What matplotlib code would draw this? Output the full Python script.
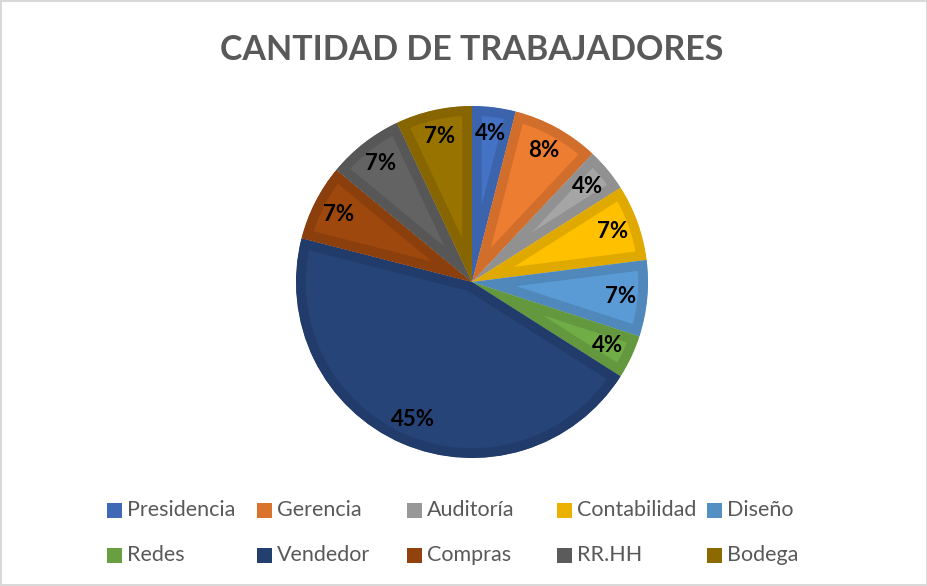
"""Pie chart: cantidad de trabajadores por área."""
import matplotlib
matplotlib.use("Agg")
import matplotlib.pyplot as plt
from matplotlib.colors import to_rgb
from matplotlib.patches import Rectangle

areas = ["Presidencia", "Gerencia", "Auditoría", "Contabilidad", "Diseño",
         "Redes", "Vendedor", "Compras", "RR.HH", "Bodega"]
porcentajes = [4, 8, 4, 7, 7, 4, 45, 7, 7, 7]
colores = ["#4472C4", "#ED7D31", "#A5A5A5", "#FFC000", "#5B9BD5",
           "#70AD47", "#264478", "#9E480E", "#636363", "#997300"]


def _darker(c, f=0.88):
    r, g, b = to_rgb(c)
    return (r * f, g * f, b * f)


plt.rcParams["font.family"] = ["Lato", "DejaVu Sans"]

W, H = 928, 586
fig = plt.figure(figsize=(W / 100, H / 100), dpi=100)
fig.patch.set_edgecolor("#D9D9D9")
fig.patch.set_linewidth(1.5)

ax = fig.add_axes([(472 - 176) / W, (H - 458) / H, 352 / W, 352 / H])
wedges, _, autotexts = ax.pie(
    porcentajes,
    colors=colores,
    startangle=90,
    counterclock=False,
    autopct=lambda p: f"{p:.0f}%",
    pctdistance=0.85,
    wedgeprops={"linewidth": 14},
    textprops={"fontsize": 16, "fontweight": "bold", "color": "black"},
)
# bevel look: darker band inside each slice
for w, c in zip(wedges, colores):
    w.set_edgecolor(_darker(c))
    w.set_clip_path(w)
    w.set_clip_on(True)
ax.set_xlim(-1, 1)
ax.set_ylim(-1, 1)
ax.set_aspect("equal")
ax.axis("off")

fig.text(472 / W, 1 - 50 / H, "CANTIDAD DE TRABAJADORES", ha="center",
         va="center", fontsize=24.5, fontweight="bold", color="#595959")

# legend: 2 rows x 5 equal columns, like the Excel layout
for i, (nombre, c) in enumerate(zip(areas, colores)):
    fila, col = divmod(i, 5)
    x0 = 107 + 150 * col
    yc = 510 + 45 * fila
    fig.patches.append(Rectangle((x0 / W, 1 - (yc + 7.5) / H), 15 / W, 15 / H,
                                 transform=fig.transFigure,
                                 facecolor=_darker(c, 0.92), edgecolor="none"))
    fig.text((x0 + 20) / W, 1 - yc / H, nombre, ha="left", va="center",
             fontsize=15.5, color="#595959")

fig.savefig("out.png", dpi=100)
plt.close(fig)
